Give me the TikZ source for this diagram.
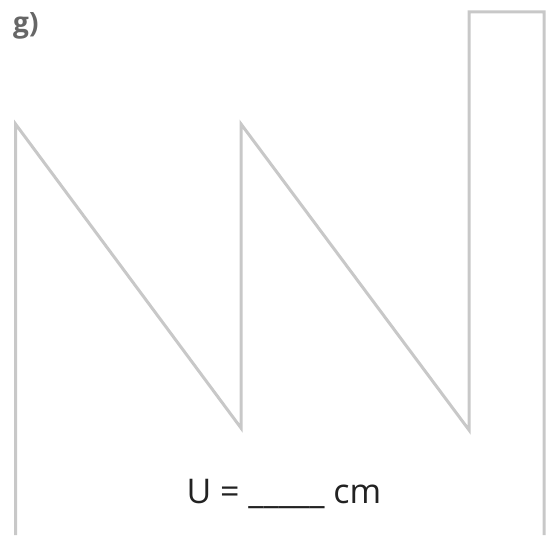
\documentclass[tikz,border=0pt]{standalone}
\usepackage{fontspec}
\usepackage{tikz}
\usepackage{xcolor}
\setmainfont{Open Sans}
\definecolor{lightgrey}{HTML}{C8C8C8}
\definecolor{labelgrey}{HTML}{666666}
\definecolor{textdark}{HTML}{222222}

\begin{document}
\begin{tikzpicture}[x=1pt, y=-1pt,
  outline/.style={draw=lightgrey, line width=3pt, line join=miter},
  tasklabel/.style={anchor=base west, inner sep=0pt, text=labelgrey, font=\bfseries\fontsize{28}{32}\selectfont},
  answer/.style={anchor=base, inner sep=0pt, text=textdark, font=\fontsize{34}{40}\selectfont}
]

\useasboundingbox (0,0) rectangle (548,535);

\coordinate (p1) at (15.5,535);
\coordinate (p2) at (15.5,124);
\coordinate (p3) at (241,428);
\coordinate (p4) at (241,124);
\coordinate (p5) at (469,430);
\coordinate (p6) at (469,12);
\coordinate (p7) at (544,12);
\coordinate (p8) at (544,535);

\node[tasklabel] (lab) at (13,33) {g)};
\node[answer] (res) at (284,503) {U = \_\_\_\_\_ cm};

\draw[outline] (p1) -- (p2) -- (p3) -- (p4) -- (p5) -- (p6) -- (p7) -- (p8);

\end{tikzpicture}
\end{document}
